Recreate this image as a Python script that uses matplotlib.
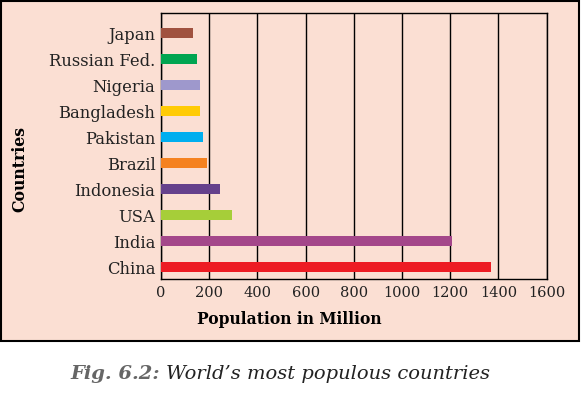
import matplotlib
matplotlib.use("Agg")
import matplotlib.pyplot as plt
from matplotlib.patches import Rectangle

# data (bottom to top)
countries = ["China", "India", "USA", "Indonesia", "Brazil", "Pakistan",
             "Bangladesh", "Nigeria", "Russian Fed.", "Japan"]
population = [1369, 1207, 295, 245, 191, 174, 162, 162, 149, 134]
colors = ["#ED1C24", "#A4478A", "#A6CE39", "#65418C", "#F58220", "#00AEEF",
          "#FFCB05", "#9E98CC", "#00A551", "#A0523F"]
xticks = [0, 200, 400, 600, 800, 1000, 1200, 1400, 1600]

plt.rcParams["font.family"] = ["DejaVu Serif"]
bg = "#FBDFD3"

fig = plt.figure(figsize=(5.82, 3.93), dpi=100)
fig.patch.set_facecolor("white")
fig.patches.append(Rectangle((0.002, 0.1323), 0.993, 0.866, transform=fig.transFigure,
                             facecolor=bg, edgecolor="black", lw=1.5, zorder=-10))

ax = fig.add_axes([0.2766, 0.29, 0.6627, 0.6768])
ax.set_zorder(5)
ax.set_facecolor(bg)
ypos = list(range(len(countries)))
ax.barh(ypos, population, height=0.4, color=colors, zorder=3)
ax.set_xlim(0, 1600)
ax.set_ylim(-0.46, 9.77)
ax.set_xticks(xticks)
ax.set_xticklabels([str(t) for t in xticks], fontsize=10.5, color="#222222")
ax.set_yticks(ypos)
ax.set_yticklabels(countries, fontsize=11.8, color="#222222")
ax.tick_params(length=0, pad=4)
ax.tick_params(axis="x", pad=5)
ax.xaxis.grid(True, color="black", lw=1)
for s in ax.spines.values():
    s.set_color("black")
    s.set_linewidth(1)

fig.text(289 / 582, 1 - 319 / 393, "Population in Million", fontsize=11.2,
         fontweight="bold", ha="center", va="center")
fig.text(20 / 582, 1 - 169 / 393, "Countries", fontsize=11.3, fontweight="bold",
         rotation=90, ha="center", va="center")

# caption: bold grey prefix then italic text right after it
t1 = fig.text(70 / 582, 1 - 374 / 393, "Fig. 6.2:", fontsize=14, fontweight="bold",
              style="italic", color="#666666", ha="left", va="center")
fig.canvas.draw()
bb = t1.get_window_extent()
x2 = fig.transFigure.inverted().transform((bb.x1 + 6, 0))[0]
fig.text(x2, 1 - 374 / 393, "World\u2019s most populous countries", fontsize=14,
         style="italic", color="#222222", ha="left", va="center")

fig.savefig("out.png", dpi=100, facecolor="white")
